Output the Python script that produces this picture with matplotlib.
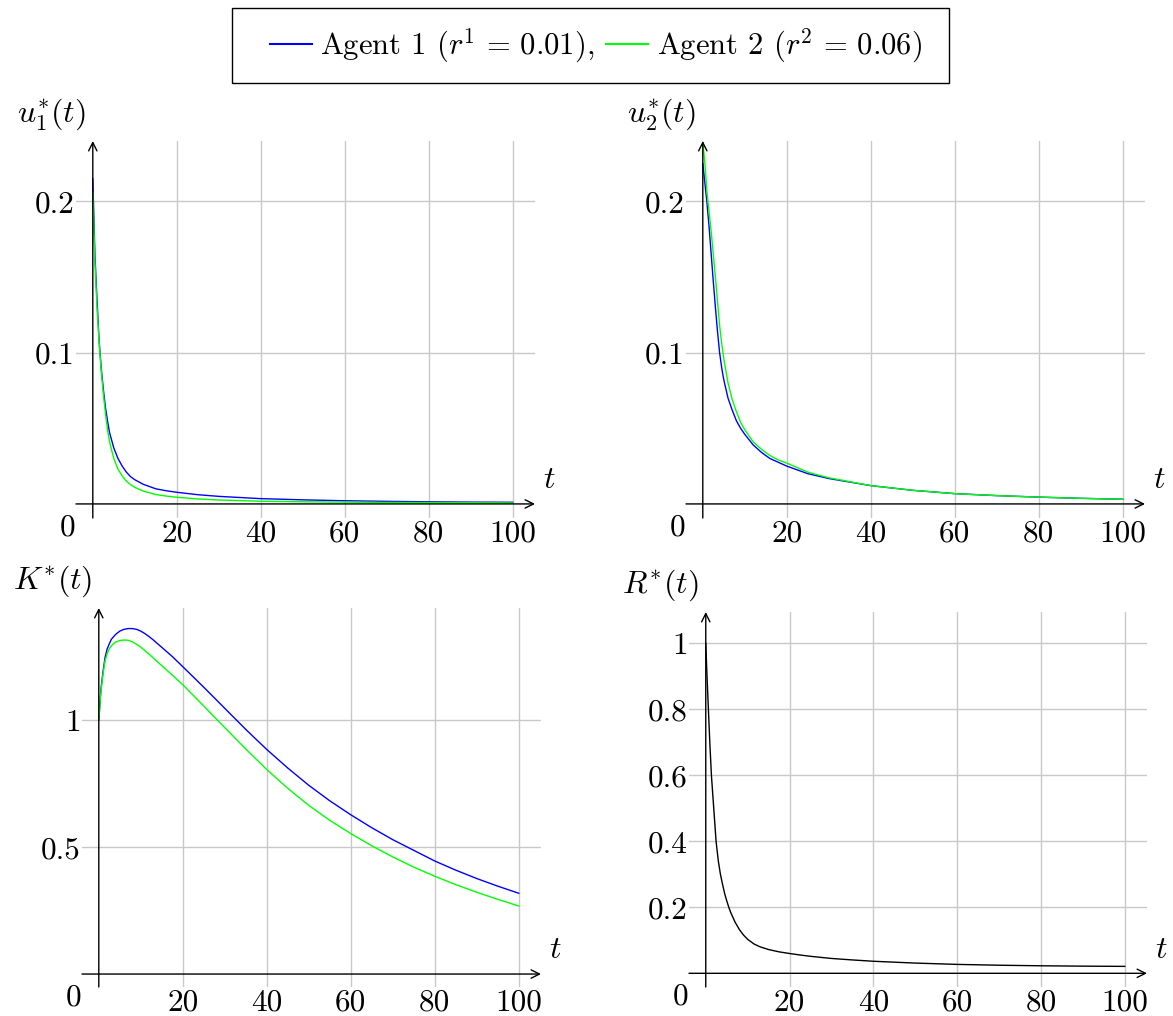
import numpy as np
import matplotlib
matplotlib.use('Agg')
import matplotlib.pyplot as plt
from matplotlib.patches import Rectangle

plt.rcParams['font.family'] = 'cmr10'
plt.rcParams['mathtext.fontset'] = 'cm'
plt.rcParams['axes.unicode_minus'] = False

# values
t_u1 = [0, 0.5, 1, 1.5, 2, 2.5, 3, 3.5, 4, 5, 6, 7, 8, 9, 10, 12, 15, 17.5, 20, 25, 30,
        40, 50, 60, 70, 80, 90, 100]
u1_agent1 = [0.215, 0.165, 0.135, 0.108, 0.090, 0.076, 0.064, 0.055, 0.047, 0.037, 0.030, 0.025,
             0.021, 0.018, 0.016, 0.013, 0.0100, 0.0087, 0.0077, 0.0061, 0.0050,
             0.0035, 0.0027, 0.0021, 0.0017, 0.0014, 0.0012, 0.0011]
u1_agent2 = [0.206, 0.160, 0.130, 0.107, 0.088, 0.073, 0.060, 0.049, 0.041, 0.030, 0.023, 0.0185,
             0.015, 0.0128, 0.011, 0.0085, 0.0062, 0.0052, 0.0044, 0.0033, 0.0026,
             0.0018, 0.0014, 0.0012, 0.0010, 0.0009, 0.0008, 0.0007]

t_u2 = [0, 0.5, 1, 1.5, 2, 2.5, 3, 3.5, 4, 4.5, 5, 6, 7, 8, 9, 10, 12, 14, 16, 18, 20, 25, 30,
        40, 50, 60, 70, 80, 90, 100]
u2_agent1 = [0.225, 0.212, 0.199, 0.183, 0.165, 0.147, 0.130, 0.114, 0.100, 0.090, 0.082, 0.070,
             0.062, 0.055, 0.050, 0.046, 0.039, 0.034, 0.030, 0.0275, 0.025, 0.020, 0.0168,
             0.0121, 0.0090, 0.0068, 0.0055, 0.0045, 0.0037, 0.0031]
u2_agent2 = [0.239, 0.225, 0.206, 0.193, 0.180, 0.165, 0.150, 0.134, 0.118, 0.106, 0.096, 0.080,
             0.069, 0.061, 0.054, 0.049, 0.041, 0.036, 0.032, 0.029, 0.027, 0.021, 0.0173,
             0.0121, 0.0090, 0.0068, 0.0055, 0.0045, 0.0037, 0.0031]

t_K = [0, 0.5, 1, 1.5, 2, 2.5, 3, 4, 5, 6, 7, 8, 9, 10, 11, 12, 13, 15, 17.5, 20, 25, 30, 35,
       40, 45, 50, 55, 60, 65, 70, 75, 80, 85, 90, 95, 100]
K_agent1 = [1.0, 1.12, 1.19, 1.247, 1.28, 1.30, 1.318, 1.337, 1.35, 1.357, 1.36, 1.36, 1.357,
            1.35, 1.34, 1.328, 1.315, 1.286, 1.25, 1.21, 1.129, 1.046, 0.963,
            0.884, 0.811, 0.743, 0.682, 0.627, 0.576, 0.529, 0.487, 0.445, 0.409, 0.376, 0.346, 0.318]
K_agent2 = [1.0, 1.11, 1.18, 1.234, 1.262, 1.28, 1.293, 1.307, 1.313, 1.315, 1.314, 1.308, 1.298,
            1.287, 1.273, 1.259, 1.244, 1.214, 1.177, 1.139, 1.055, 0.97, 0.886,
            0.805, 0.731, 0.664, 0.605, 0.553, 0.505, 0.461, 0.421, 0.385, 0.352, 0.322, 0.294, 0.268]

t_R = [0, 0.3, 0.63, 1, 1.35, 1.7, 2, 2.46, 3, 3.5, 4, 4.5, 5, 5.5, 6, 7, 8, 9, 10, 11.5, 13,
       15, 17.5, 20, 22.5, 25, 30, 35, 40, 50, 60, 70, 80, 90, 100]
R = [1.0, 0.9, 0.8, 0.69, 0.6, 0.537, 0.483, 0.40, 0.34, 0.30, 0.27, 0.242, 0.22, 0.2, 0.183,
     0.155, 0.133, 0.116, 0.103, 0.089, 0.080, 0.072, 0.065, 0.060, 0.0555, 0.0515, 0.045,
     0.0405, 0.0365, 0.031, 0.027, 0.0245, 0.0228, 0.0217, 0.021]

xticks = [20, 40, 60, 80, 100]
xticklabels = ['20', '40', '60', '80', '100']
legend_labels = [r'Agent 1 ($r^1 \,=\, 0.01$),', r'Agent 2 ($r^2 \,=\, 0.06$)']

fig = plt.figure(figsize=(11.73, 10.16), dpi=100)
W, H = 1173.0, 1016.0


def make_axes(left, right, top, bottom, ylim, yticks, yticklabels, ylabel):
    ax = fig.add_axes([left / W, 1 - bottom / H, (right - left) / W, (bottom - top) / H])
    ax.set_xlim(-4.0, 105.3)
    ax.set_ylim(ylim)
    for s in ax.spines.values():
        s.set_visible(False)
    ax.set_xticks(xticks)
    ax.set_xticklabels(xticklabels)
    ax.set_yticks(yticks)
    ax.set_yticklabels(yticklabels)
    ax.tick_params(length=0, labelsize=22.5, pad=1)
    ax.tick_params(axis='x', pad=1)
    ax.grid(True, color='#c8c8c8', lw=1.0, zorder=0)
    arrow = dict(arrowstyle='->,head_length=0.6,head_width=0.3', lw=1.0, color='black',
                 shrinkA=0, shrinkB=0, mutation_scale=10)
    ax.annotate('', xy=(1, 0), xycoords=('axes fraction', 'data'),
                xytext=(0, 0), textcoords=('axes fraction', 'data'), arrowprops=arrow, zorder=5)
    ax.annotate('', xy=(0, 1), xycoords=('data', 'axes fraction'),
                xytext=(0, 0), textcoords=('data', 'axes fraction'), arrowprops=arrow, zorder=5)
    ax.annotate('$t$', xy=(1, 0), xycoords=('axes fraction', 'data'),
                xytext=(6, 7), textcoords='offset points', ha='left', va='bottom', fontsize=23)
    ax.annotate(ylabel, xy=(0, 1), xycoords=('data', 'axes fraction'),
                xytext=(-5, 19), textcoords='offset points', ha='right', va='center', fontsize=23)
    ax.annotate('0', xy=(0, 0), xycoords='data',
                xytext=(-18, -17), textcoords='offset points', ha='center', va='center', fontsize=22.5)
    return ax


ax1 = make_axes(76, 535, 141, 518, (-0.0093, 0.2399), [0.1, 0.2], ['0.1', '0.2'], '$u_1^{*}(t)$')
l1, = ax1.plot(t_u1, u1_agent1, color='#0000ff', lw=1.0, zorder=3)
l2, = ax1.plot(t_u1, u1_agent2, color='#00ff00', lw=1.0, zorder=3)

ax2 = make_axes(686, 1145, 141, 518, (-0.0093, 0.2399), [0.1, 0.2], ['0.1', '0.2'], '$u_2^{*}(t)$')
ax2.plot(t_u2, u2_agent1, color='#0000ff', lw=1.0, zorder=3)
ax2.plot(t_u2, u2_agent2, color='#00ff00', lw=1.0, zorder=3)

ax3 = make_axes(82, 541, 608, 987, (-0.051, 1.441), [0.5, 1], ['0.5', '1'], '$K^{*}(t)$')
ax3.plot(t_K, K_agent1, color='#0000ff', lw=1.0, zorder=3)
ax3.plot(t_K, K_agent2, color='#00ff00', lw=1.0, zorder=3)

ax4 = make_axes(689, 1147, 612, 987, (-0.0415, 1.095), [0.2, 0.4, 0.6, 0.8, 1],
                ['0.2', '0.4', '0.6', '0.8', '1'], '$R^{*}(t)$')
ax4.plot(t_R, R, color='black', lw=1.0, zorder=3)

# legend box drawn separately (wide padding like the original)
fig.patches.append(Rectangle((232 / W, 1 - 83 / H), 717 / W, 75 / H, transform=fig.transFigure,
                             fill=False, ec='black', lw=1.0))
leg = fig.legend([l1, l2], legend_labels,
                 loc='center', bbox_to_anchor=(596 / W, 1 - 45.5 / H), ncol=2,
                 fontsize=22, frameon=False,
                 handlelength=1.37, handletextpad=0.28, columnspacing=0.38, borderpad=0,
                 borderaxespad=0)
for h in leg.get_lines():
    h.set_linewidth(1.5)

plt.savefig('out.png', dpi=100)
